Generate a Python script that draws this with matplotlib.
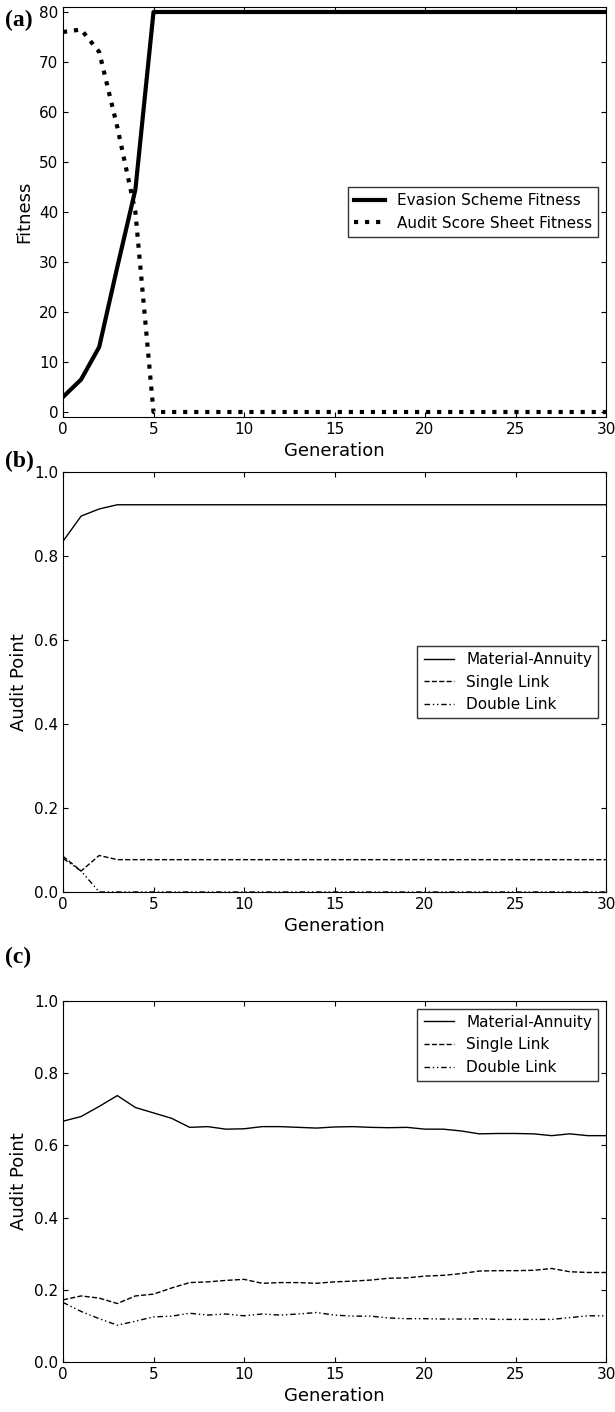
import matplotlib
matplotlib.use('Agg')
import matplotlib.pyplot as plt
import numpy as np

# panel (a)
gen_a = np.arange(31)
evasion = [3, 6.5, 13, 29, 44.5] + [80] * 26
audit = [76, 76.5, 72, 57, 40] + [0] * 26

# panel (b)
gen_b = np.arange(31)
ma_b = [0.835, 0.895, 0.912, 0.922] + [0.922] * 27
single_b = [0.085, 0.05, 0.087, 0.077] + [0.077] * 27
double_b = [0.08, 0.05, 0.0, 0.0] + [0.0] * 27

# panel (c)
gen_c = np.arange(31)
ma_c = [0.667, 0.68, 0.708, 0.738, 0.705, 0.69, 0.675, 0.65, 0.652, 0.645,
        0.646, 0.652, 0.652, 0.65, 0.648, 0.651, 0.652, 0.65, 0.649, 0.65,
        0.645, 0.645, 0.64, 0.632, 0.633, 0.633, 0.632, 0.627, 0.632, 0.627, 0.627]
single_c = [0.172, 0.183, 0.177, 0.162, 0.183, 0.188, 0.205, 0.22, 0.222, 0.226,
            0.229, 0.218, 0.22, 0.22, 0.218, 0.222, 0.224, 0.227, 0.232, 0.233,
            0.238, 0.24, 0.245, 0.252, 0.253, 0.253, 0.254, 0.259, 0.25, 0.248, 0.248]
double_c = [0.165, 0.14, 0.12, 0.102, 0.113, 0.125, 0.127, 0.135, 0.13, 0.133,
            0.128, 0.133, 0.13, 0.133, 0.137, 0.13, 0.127, 0.127, 0.122, 0.12,
            0.12, 0.119, 0.119, 0.12, 0.118, 0.118, 0.118, 0.118, 0.123, 0.128, 0.128]

plt.rcParams['font.family'] = 'DejaVu Sans'
plt.rcParams['font.size'] = 11
plt.rcParams['xtick.direction'] = 'in'
plt.rcParams['ytick.direction'] = 'in'
plt.rcParams['xtick.top'] = True
plt.rcParams['ytick.right'] = True

W, H = 615, 1412
fig = plt.figure(figsize=(W / 100, H / 100), dpi=100)


def box(l, t, r, b):
    return [l / W, 1 - b / H, (r - l) / W, (b - t) / H]


dd = (0, (4, 2, 1, 2, 1, 2))

# (a)
ax1 = fig.add_axes(box(63, 7, 606, 417))
ax1.plot(gen_a, evasion, color='k', lw=3, label='Evasion Scheme Fitness')
ax1.plot(gen_a, audit, color='k', lw=3, ls=':', label='Audit Score Sheet Fitness')
ax1.set_xlim(0, 30)
ax1.set_ylim(-1, 81)
ax1.set_yticks([0, 10, 20, 30, 40, 50, 60, 70, 80])
ax1.set_xlabel('Generation', fontsize=13)
ax1.set_ylabel('Fitness', fontsize=13)
ax1.legend(loc='center right', fancybox=False, edgecolor='k', fontsize=11)
fig.text(5 / W, 1 - 20 / H, '(a)', family='Liberation Serif', weight='bold',
         fontsize=17, va='center')

# (b)
ax2 = fig.add_axes(box(63, 472, 606, 892))
ax2.plot(gen_b, ma_b, color='k', lw=1, label='Material-Annuity')
ax2.plot(gen_b, single_b, color='k', lw=1, ls='--', label='Single Link')
ax2.plot(gen_b, double_b, color='k', lw=1, ls=dd, label='Double Link')
ax2.set_xlim(0, 30)
ax2.set_ylim(0, 1)
ax2.set_yticks([0.0, 0.2, 0.4, 0.6, 0.8, 1.0])
ax2.set_xlabel('Generation', fontsize=13)
ax2.set_ylabel('Audit Point', fontsize=13)
ax2.legend(loc='center right', fancybox=False, edgecolor='k', fontsize=11)
fig.text(5 / W, 1 - 461 / H, '(b)', family='Liberation Serif', weight='bold',
         fontsize=17, va='center')

# (c)
ax3 = fig.add_axes(box(63, 1001, 606, 1362))
ax3.plot(gen_c, ma_c, color='k', lw=1, label='Material-Annuity')
ax3.plot(gen_c, single_c, color='k', lw=1, ls='--', label='Single Link')
ax3.plot(gen_c, double_c, color='k', lw=1, ls=dd, label='Double Link')
ax3.set_xlim(0, 30)
ax3.set_ylim(0, 1)
ax3.set_yticks([0.0, 0.2, 0.4, 0.6, 0.8, 1.0])
ax3.set_xlabel('Generation', fontsize=13)
ax3.set_ylabel('Audit Point', fontsize=13)
ax3.legend(loc='upper right', fancybox=False, edgecolor='k', fontsize=11)
fig.text(5 / W, 1 - 957 / H, '(c)', family='Liberation Serif', weight='bold',
         fontsize=17, va='center')

fig.savefig('out.png', dpi=100)
